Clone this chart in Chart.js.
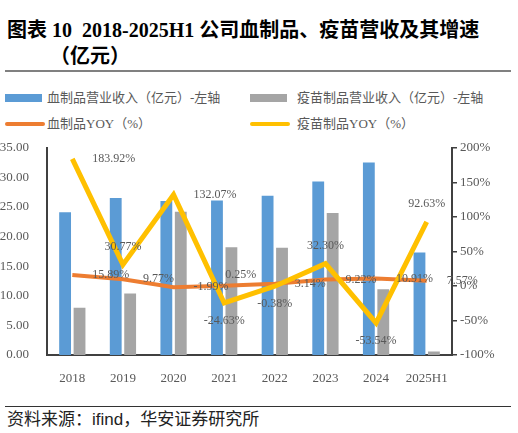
<!DOCTYPE html>
<html>
<head>
<meta charset="utf-8">
<script src="https://cdn.jsdelivr.net/npm/chart.js@4"></script>
<style>
  html, body { margin: 0; padding: 0; background: #fff; }
  body { width: 518px; height: 433px; position: relative; overflow: hidden;
         font-family: "Liberation Serif", "Noto Sans CJK SC", serif; }
  .title { position: absolute; left: 7px; font-size: 20px; line-height: 20px; font-weight: bold; color: #000; white-space: nowrap; }
  .rule { position: absolute; left: 5px; width: 506px; }
  .legend-item { position: absolute; font-size: 13px; line-height: 16px; color: #595959; white-space: nowrap; }
  .swatch { position: absolute; }
  #chartBox { position: absolute; left: 0; top: 130px; width: 518px; height: 255px; }
  .source { position: absolute; left: 7px; top: 410px; font-size: 17px; line-height: 20px; color: #222;
            font-family: "Liberation Sans", "Noto Sans CJK SC", sans-serif; white-space: nowrap; }
</style>
</head>
<body>
<div class="title" style="top:20px">图表&nbsp;10&nbsp;&nbsp;2018-2025H1 公司血制品、疫苗营收及其增速</div>
<div class="title" style="top:46px; left:50px">（亿元）</div>
<div class="rule" style="top:70px; height:2px; background:#808080"></div>
<div id="legend"></div>
<div id="chartBox"><canvas id="mainChart"></canvas></div>
<div class="rule" style="top:406px; height:1px; background:#333"></div>
<div class="source">资料来源：ifind，华安证券研究所</div>

<script>
// données
const years = ['2018', '2019', '2020', '2021', '2022', '2023', '2024', '2025H1'];
const bloodRevenue = [24.1, 26.5, 26.0, 26.1, 26.9, 29.3, 32.5, 17.3];
const vaccineRevenue = [8.0, 10.4, 24.2, 18.2, 18.1, 24.0, 11.1, 0.6];
const bloodYoy = [15.89, 9.77, -1.99, 0.25, 3.14, 9.22, 10.91, 7.57];
const vaccineYoy = [183.92, 30.77, 132.07, -24.63, -0.38, 32.30, -53.54, 92.63];
const leftTicks = { min: 0, max: 35, step: 5 };
const rightTicks = { min: -100, max: 200, step: 50 };

// placement des étiquettes
const bloodLabelPos = ['right', 'right', 'right', 'upright', 'right', 'right', 'right', 'right'];
const vaccineLabelPos = ['right', 'above', 'right', 'below', 'below', 'above', 'below', 'above'];

const axisColor = '#404040';
const textColor = '#595959';

// étiquettes de données dessinées à la main
const dataLabels = {
  id: 'dataLabels',
  afterDatasetsDraw(chart) {
    const c = chart.ctx;
    c.save();
    c.font = '12px "Liberation Serif"';
    c.fillStyle = textColor;
    c.textBaseline = 'middle';
    chart.data.datasets.forEach((ds, i) => {
      if (!ds.labelPos) return;
      const meta = chart.getDatasetMeta(i);
      meta.data.forEach((pt, j) => {
        const txt = ds.data[j].toFixed(2) + '%';
        const pos = ds.labelPos[j];
        let x = pt.x, y = pt.y;
        if (pos === 'right') { c.textAlign = 'left'; x += 20; }
        else if (pos === 'above') { c.textAlign = 'center'; y -= 18; }
        else if (pos === 'below') { c.textAlign = 'center'; y += 18; }
        else if (pos === 'upright') { c.textAlign = 'left'; x += 1; y -= 11; }
        c.fillText(txt, x, y);
      });
    });
    c.restore();
  }
};

const chart = new Chart(document.getElementById('mainChart'), {
  data: {
    labels: years,
    datasets: [
      {
        type: 'line', label: '疫苗制品YOY（%）', data: vaccineYoy, yAxisID: 'y1',
        borderColor: '#FFC000', backgroundColor: '#FFC000', borderWidth: 5,
        pointRadius: 0, tension: 0, order: 0, labelPos: vaccineLabelPos
      },
      {
        type: 'line', label: '血制品YOY（%）', data: bloodYoy, yAxisID: 'y1',
        borderColor: '#ED7D31', backgroundColor: '#ED7D31', borderWidth: 4,
        pointRadius: 0, tension: 0, order: 1, labelPos: bloodLabelPos
      },
      {
        type: 'bar', label: '血制品营业收入（亿元）-左轴', data: bloodRevenue, yAxisID: 'y',
        backgroundColor: '#5B9BD5', order: 2,
        categoryPercentage: 0.57, barPercentage: 0.82
      },
      {
        type: 'bar', label: '疫苗制品营业收入（亿元）-左轴', data: vaccineRevenue, yAxisID: 'y',
        backgroundColor: '#A5A5A5', order: 2,
        categoryPercentage: 0.57, barPercentage: 0.82
      }
    ]
  },
  options: {
    responsive: true,
    maintainAspectRatio: false,
    animation: false,
    layout: { padding: { top: 7, left: 0, right: 0, bottom: 0 } },
    plugins: { legend: { display: false }, tooltip: { enabled: false } },
    scales: {
      x: {
        grid: { display: false },
        border: { display: true, color: axisColor, width: 2 },
        ticks: { color: textColor, font: { family: 'Liberation Serif', size: 13 }, padding: 8, maxRotation: 0 },
        afterFit: s => { s.height = 30; }
      },
      y: {
        position: 'left',
        min: leftTicks.min, max: leftTicks.max,
        grid: { display: false },
        border: { display: true, color: axisColor, width: 2 },
        ticks: {
          stepSize: leftTicks.step, padding: 10, color: textColor,
          font: { family: 'Liberation Serif', size: 13 },
          callback: v => v.toFixed(2)
        },
        afterFit: s => { s.width = 47; }
      },
      y1: {
        position: 'right',
        min: rightTicks.min, max: rightTicks.max,
        grid: { display: true, drawOnChartArea: false, drawTicks: true, tickLength: 5, color: axisColor, lineWidth: 1.5 },
        border: { display: true, color: axisColor, width: 2 },
        ticks: {
          stepSize: rightTicks.step, padding: 3, color: textColor,
          font: { family: 'Liberation Serif', size: 13 },
          callback: v => v + '%'
        },
        afterFit: s => { s.width = 66; }
      }
    }
  },
  plugins: [dataLabels]
});

// légende HTML construite à partir des datasets
const legendBox = document.getElementById('legend');
const legendSpots = [
  { ds: 2, left: 5, top: 98, text: 47, kind: 'box' },
  { ds: 3, left: 250, top: 98, text: 297, kind: 'box' },
  { ds: 1, left: 5, top: 124, text: 47, kind: 'line' },
  { ds: 0, left: 250, top: 124, text: 297, kind: 'line' }
];
legendSpots.forEach(spot => {
  const ds = chart.data.datasets[spot.ds];
  const sw = document.createElement('div');
  sw.className = 'swatch';
  const color = ds.type === 'bar' ? ds.backgroundColor : ds.borderColor;
  if (spot.kind === 'box') {
    sw.style.cssText = `left:${spot.left}px;top:${spot.top - 4}px;width:37px;height:8px;background:${color}`;
  } else {
    sw.style.cssText = `left:${spot.left}px;top:${spot.top - 2}px;width:40px;height:4px;border-radius:2px;background:${color}`;
  }
  legendBox.appendChild(sw);
  const lab = document.createElement('div');
  lab.className = 'legend-item';
  lab.style.left = spot.text + 'px';
  lab.style.top = (spot.top - 8) + 'px';
  lab.textContent = ds.label;
  legendBox.appendChild(lab);
});
</script>
</body>
</html>
